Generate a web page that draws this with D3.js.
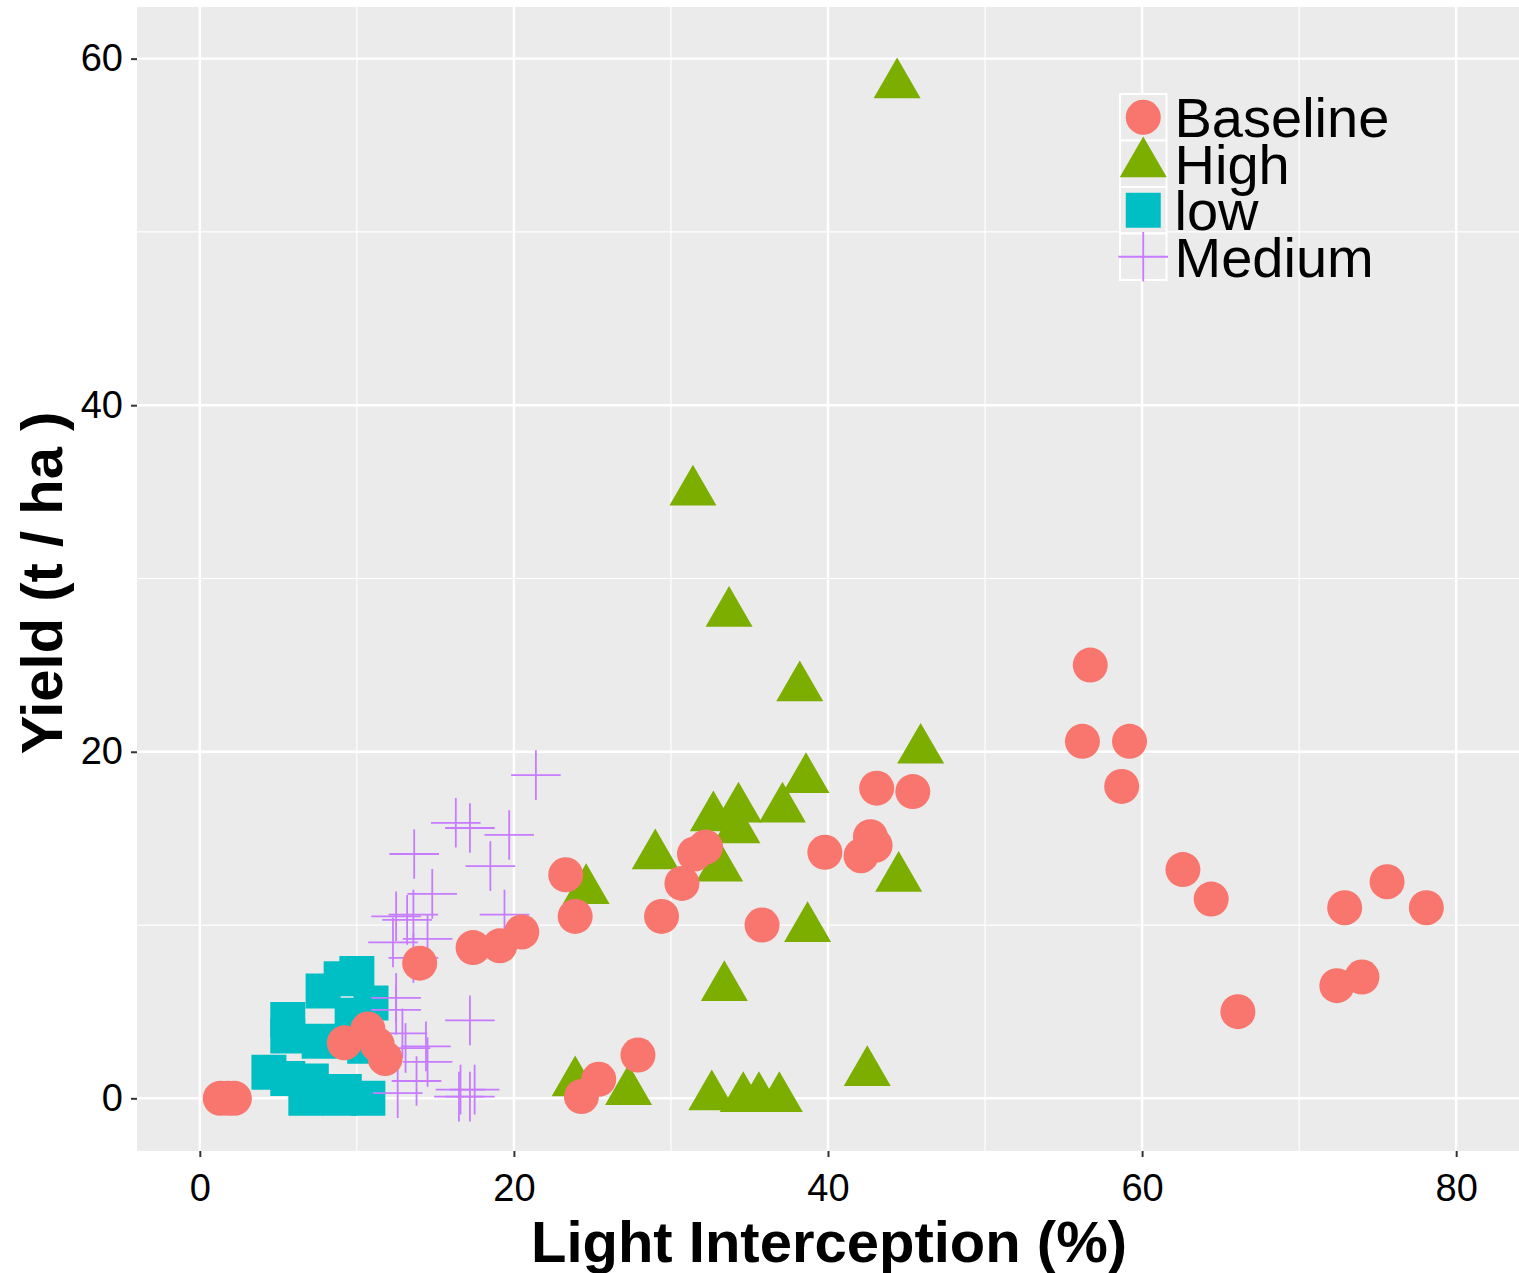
<!DOCTYPE html>
<html lang="en">
<head>
    <meta charset="UTF-8">
    <title>Yield vs Light Interception</title>
    <script src="https://d3js.org/d3.v7.min.js"></script>
    <style>
        body {
            margin: 0;
            background: #fff;
            font-family: "Liberation Sans", Arial, sans-serif;
        }
        .tick-label {
            font-size: 38px;
            fill: #000;
        }
        .axis-title {
            font-size: 58px;
            font-weight: bold;
            fill: #000;
        }
        .legend-label {
            font-size: 56px;
            fill: #000;
        }
    </style>
</head>
<body>
    <svg width="1519" height="1273"></svg>
    <script>
        // data: [light interception %, yield t/ha]
        const baseline = [
            [1.3, 0], [1.8, 0], [2.2, 0], [9.2, 3.2], [10.7, 4.0], [11.3, 3.1], [11.8, 2.3],
            [14.0, 7.8], [17.4, 8.7], [19.1, 8.8], [20.5, 9.6], [23.3, 12.9], [23.9, 10.5],
            [29.4, 10.5], [30.7, 12.4], [31.5, 14.1], [32.2, 14.5], [35.8, 10.0], [39.8, 14.2],
            [42.1, 14.0], [42.7, 15.1], [43.0, 14.6], [43.1, 17.9], [45.4, 17.7], [27.9, 2.5],
            [25.4, 1.1], [24.3, 0.1], [56.7, 25.0], [56.2, 20.6], [59.2, 20.6], [58.7, 18.0],
            [62.6, 13.2], [64.4, 11.5], [66.1, 5.0], [72.4, 6.5], [74.0, 7.0], [72.9, 11.0],
            [75.6, 12.5], [78.1, 11.0]
        ];
        const high = [
            [44.4, 58.5], [31.4, 35.0], [33.7, 28.0], [38.2, 23.7], [45.9, 20.1], [38.6, 18.4],
            [32.7, 16.2], [34.3, 16.7], [37.1, 16.7], [34.2, 15.5], [33.1, 13.3], [29.0, 14.0],
            [24.6, 12.0], [44.5, 12.7], [38.7, 9.8], [33.4, 6.4], [42.5, 1.5], [23.9, 0.9],
            [27.3, 0.4], [32.6, 0.1], [34.6, 0], [35.6, 0], [36.9, 0]
        ];
        const low = [
            [10.0, 7.2], [9.0, 6.9], [7.85, 6.2], [10.9, 5.5], [9.7, 4.8], [5.6, 4.55],
            [5.6, 3.6], [7.6, 3.3], [10.5, 3.0], [4.4, 1.5], [5.6, 1.15], [7.1, 1.0],
            [9.2, 0.4], [6.75, 0], [8.9, 0], [10.7, 0]
        ];
        const medium = [
            [21.4, 18.65], [16.3, 15.9], [17.2, 15.6], [19.7, 15.2], [18.5, 13.4], [13.65, 14.1],
            [14.8, 11.8], [13.6, 10.6], [13.2, 10.3], [19.4, 10.6], [12.5, 10.5], [14.5, 9.2],
            [12.3, 9.0], [13.6, 8.1], [12.5, 5.8], [12.5, 5.1], [17.2, 4.5], [12.9, 3.75],
            [13.1, 2.9], [14.4, 3.0], [14.5, 2.1], [13.8, 1.0], [12.6, 0.3], [16.6, 0.5],
            [17.5, 0.5], [16.5, 0.1], [17.2, 0.1]
        ];

        const groupNames = ["Baseline", "High", "low", "Medium"];
        const groupColors = ["#F8766D", "#7CAE00", "#00BFC4", "#C77CFF"];
        const xMajor = [0, 20, 40, 60, 80];
        const xMinor = [10, 30, 50, 70];
        const yMajor = [0, 20, 40, 60];
        const yMinor = [10, 30, 50];

        const margin = { top: 7, right: 0, bottom: 122, left: 137 };
        const width = 1519 - margin.left - margin.right;
        const height = 1273 - margin.top - margin.bottom;

        const svg = d3.select("svg")
            .append("g")
            .attr("transform", `translate(${margin.left},${margin.top})`);

        const x = d3.scaleLinear().domain([-4.0, 84.0]).range([0, width]);
        const y = d3.scaleLinear().domain([-3.04, 62.98]).range([height, 0]);

        // panel + grid
        svg.append("rect")
            .attr("width", width)
            .attr("height", height)
            .attr("fill", "#EBEBEB");

        svg.selectAll(".gx-minor").data(xMinor).enter().append("line")
            .attr("x1", d => x(d)).attr("x2", d => x(d))
            .attr("y1", 0).attr("y2", height)
            .attr("stroke", "#fff").attr("stroke-width", 1.2);
        svg.selectAll(".gy-minor").data(yMinor).enter().append("line")
            .attr("y1", d => y(d)).attr("y2", d => y(d))
            .attr("x1", 0).attr("x2", width)
            .attr("stroke", "#fff").attr("stroke-width", 1.2);
        svg.selectAll(".gx-major").data(xMajor).enter().append("line")
            .attr("x1", d => x(d)).attr("x2", d => x(d))
            .attr("y1", 0).attr("y2", height)
            .attr("stroke", "#fff").attr("stroke-width", 2.4);
        svg.selectAll(".gy-major").data(yMajor).enter().append("line")
            .attr("y1", d => y(d)).attr("y2", d => y(d))
            .attr("x1", 0).attr("x2", width)
            .attr("stroke", "#fff").attr("stroke-width", 2.4);

        // axes
        const xAxis = svg.append("g")
            .attr("transform", `translate(0,${height})`)
            .call(d3.axisBottom(x).tickValues(xMajor).tickSize(6).tickPadding(10));
        const yAxis = svg.append("g")
            .call(d3.axisLeft(y).tickValues(yMajor).tickSize(6).tickPadding(8));
        [xAxis, yAxis].forEach(a => {
            a.select(".domain").remove();
            a.selectAll(".tick line").attr("stroke", "#333").attr("stroke-width", 2);
            a.selectAll(".tick text").attr("class", "tick-label").attr("font-family", null).attr("font-size", null);
        });
        xAxis.selectAll(".tick text").attr("dy", "0.9em");

        // points
        const sym = (type, size) => d3.symbol().type(type).size(size)();
        const plusPath = "M-24.8,0H24.8M0,-24.8V24.8";

        svg.selectAll(".low").data(low).enter().append("path")
            .attr("transform", d => `translate(${x(d[0])},${y(d[1])})`)
            .attr("d", sym(d3.symbolSquare, 1225))
            .attr("fill", groupColors[2]);

        svg.selectAll(".medium").data(medium).enter().append("path")
            .attr("transform", d => `translate(${x(d[0])},${y(d[1])})`)
            .attr("d", plusPath)
            .attr("fill", "none")
            .attr("stroke", groupColors[3])
            .attr("stroke-width", 1.8);

        svg.selectAll(".high").data(high).enter().append("path")
            .attr("transform", d => `translate(${x(d[0])},${y(d[1])})`)
            .attr("d", sym(d3.symbolTriangle, 957))
            .attr("fill", groupColors[1]);

        svg.selectAll(".baseline").data(baseline).enter().append("circle")
            .attr("cx", d => x(d[0]))
            .attr("cy", d => y(d[1]))
            .attr("r", 17.5)
            .attr("fill", groupColors[0]);

        // legend
        const keySize = 46.5;
        const legend = svg.append("g")
            .attr("transform", `translate(${1120 - margin.left},${94 - margin.top})`);
        const keys = legend.selectAll(".key").data(groupNames).enter().append("g")
            .attr("transform", (d, i) => `translate(0,${i * keySize})`);
        keys.append("rect")
            .attr("width", keySize).attr("height", keySize)
            .attr("fill", "#EBEBEB")
            .attr("stroke", "#fff").attr("stroke-width", 2);
        keys.each(function (d, i) {
            const g = d3.select(this).append("g")
                .attr("transform", `translate(${keySize / 2},${keySize / 2})`);
            if (i === 0) g.append("circle").attr("r", 17.5).attr("fill", groupColors[0]);
            if (i === 1) g.append("path").attr("d", sym(d3.symbolTriangle, 957)).attr("fill", groupColors[1]);
            if (i === 2) g.append("path").attr("d", sym(d3.symbolSquare, 1225)).attr("fill", groupColors[2]);
            if (i === 3) g.append("path").attr("d", plusPath).attr("fill", "none")
                .attr("stroke", groupColors[3]).attr("stroke-width", 1.8);
        });
        keys.append("text")
            .attr("class", "legend-label")
            .attr("x", keySize + 8)
            .attr("y", keySize / 2)
            .attr("dy", "0.36em")
            .text(d => d);

        // axis titles
        svg.append("text")
            .attr("class", "axis-title")
            .attr("x", 829 - margin.left)
            .attr("y", 1262 - margin.top)
            .attr("text-anchor", "middle")
            .text("Light Interception (%)");
        svg.append("text")
            .attr("class", "axis-title")
            .attr("transform", `translate(${62 - margin.left},${583 - margin.top}) rotate(-90)`)
            .attr("text-anchor", "middle")
            .text("Yield (t / ha )");
    </script>
</body>
</html>
